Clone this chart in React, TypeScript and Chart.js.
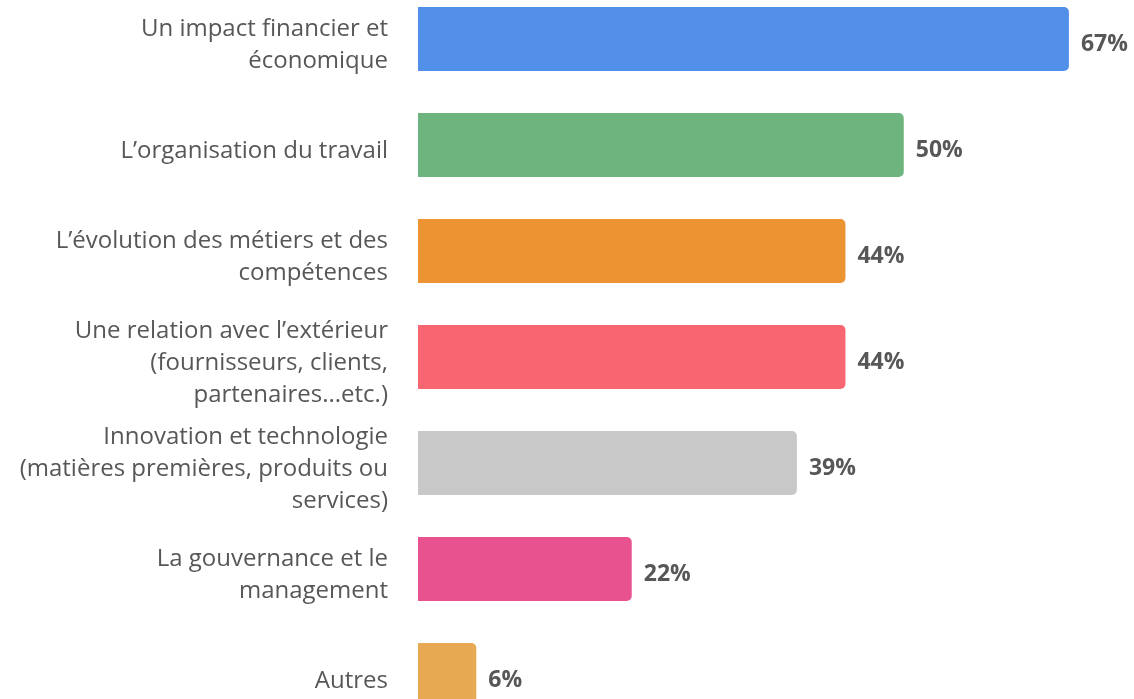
import React, { useEffect, useRef } from "react";
import { Chart, registerables } from "chart.js";

Chart.register(...registerables);

const categories: string[][] = [
  ["Un impact financier et", "économique"],
  ["L’organisation du travail"],
  ["L’évolution des métiers et des", "compétences"],
  ["Une relation avec l’extérieur", "(fournisseurs, clients,", "partenaires...etc.)"],
  ["Innovation et technologie", "(matières premières, produits ou", "services)"],
  ["La gouvernance et le", "management"],
  ["Autres"],
];

const shares: number[] = [67, 50, 44, 44, 39, 22, 6];

const barColors: string[] = [
  "#528FE8",
  "#6DB47E",
  "#EB9431",
  "#F86771",
  "#C8C8C8",
  "#E8538F",
  "#E7AA52",
];

const TEXT = "#575757";
const FONT = "'Open Sans', Lato, sans-serif";

const valueLabels = {
  id: "valueLabels",
  afterDatasetsDraw(chart: any) {
    const { ctx } = chart;
    const meta = chart.getDatasetMeta(0);
    const ds = chart.data.datasets[0];
    ctx.save();
    ctx.font = `bold 23px ${FONT}`;
    ctx.fillStyle = TEXT;
    ctx.textAlign = "left";
    ctx.textBaseline = "middle";
    meta.data.forEach((bar: any, i: number) => {
      ctx.fillText(`${ds.data[i]}%`, bar.x + 12, bar.y + 5);
    });
    ctx.restore();
  },
};

export default function App() {
  const canvasRef = useRef<HTMLCanvasElement | null>(null);

  useEffect(() => {
    document.body.style.margin = "0";
    const canvas = canvasRef.current;
    if (!canvas) return;
    const chart = new Chart(canvas, {
      type: "bar",
      data: {
        labels: categories,
        datasets: [
          {
            data: shares,
            backgroundColor: barColors,
            borderRadius: 5,
            borderSkipped: "start",
            barPercentage: 0.604,
            categoryPercentage: 1,
          },
        ],
      },
      options: {
        indexAxis: "y",
        animation: false,
        responsive: false,
        maintainAspectRatio: false,
        layout: { padding: 0 },
        plugins: {
          legend: { display: false },
          tooltip: { enabled: false },
        },
        scales: {
          x: {
            display: false,
            min: 0,
            max: 73.7,
          },
          y: {
            afterFit(scale: any) {
              scale.width = 418;
              scale.paddingTop = 0;
              scale.paddingBottom = 0;
            },
            grid: { display: false, drawTicks: false, tickLength: 0 },
            border: { display: false },
            ticks: {
              color: TEXT,
              padding: 30,
              labelOffset: 6,
              font: { family: FONT, size: 24, lineHeight: 1.34 },
            },
          },
        },
      },
      plugins: [valueLabels],
    });
    return () => chart.destroy();
  }, []);

  return (
    <div
      style={{
        position: "fixed",
        left: 0,
        top: 0,
        width: 1134,
        height: 699,
        overflow: "hidden",
        background: "#ffffff",
      }}
    >
      <div style={{ position: "absolute", left: 0, top: -14 }}>
        <canvas ref={canvasRef} width={1134} height={742} />
      </div>
    </div>
  );
}
